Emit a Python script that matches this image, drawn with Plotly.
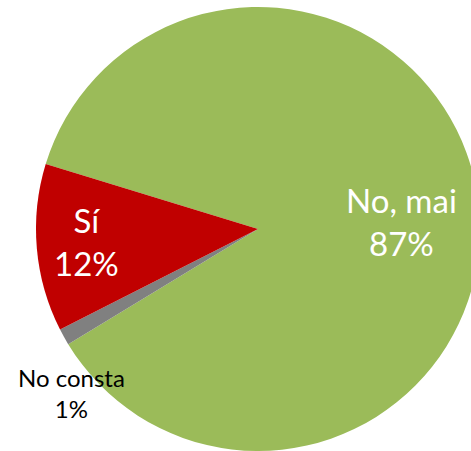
import plotly.graph_objects as go

labels = ["No, mai", "No consta", "Sí"]
values = [86.6, 1.2, 12.2]
colors = ["#9BBB59", "#808080", "#C00000"]
label_colors = ["white", "black", "white"]
label_sizes = [33, 24, 33]
# label centres in paper coordinates
label_x = [0.824, 0.079, 0.113]
label_y = [0.518, 0.131, 0.471]

total = sum(values)

fig = go.Figure(go.Pie(
    labels=labels,
    values=values,
    sort=False,
    direction="clockwise",
    rotation=287,
    marker=dict(colors=colors, line=dict(width=0)),
    textposition="none",
    hoverinfo="label+percent",
    showlegend=False,
))

for lab, v, c, s, x, y in zip(labels, values, label_colors, label_sizes, label_x, label_y):
    fig.add_annotation(
        x=x, y=y, xref="paper", yref="paper",
        xanchor="center", yanchor="middle",
        text=f"{lab}<br>{round(v / total * 100)}%",
        showarrow=False, align="center",
        font=dict(family="Lato", size=s, color=c),
    )

fig.update_layout(
    width=490, height=451,
    margin=dict(l=36, r=10, t=7, b=0),
    paper_bgcolor="white",
    plot_bgcolor="white",
)

fig.write_html(
    "out.html",
    config={"displayModeBar": False},
    post_script="document.body.style.margin='0';document.body.style.overflow='hidden';",
)
